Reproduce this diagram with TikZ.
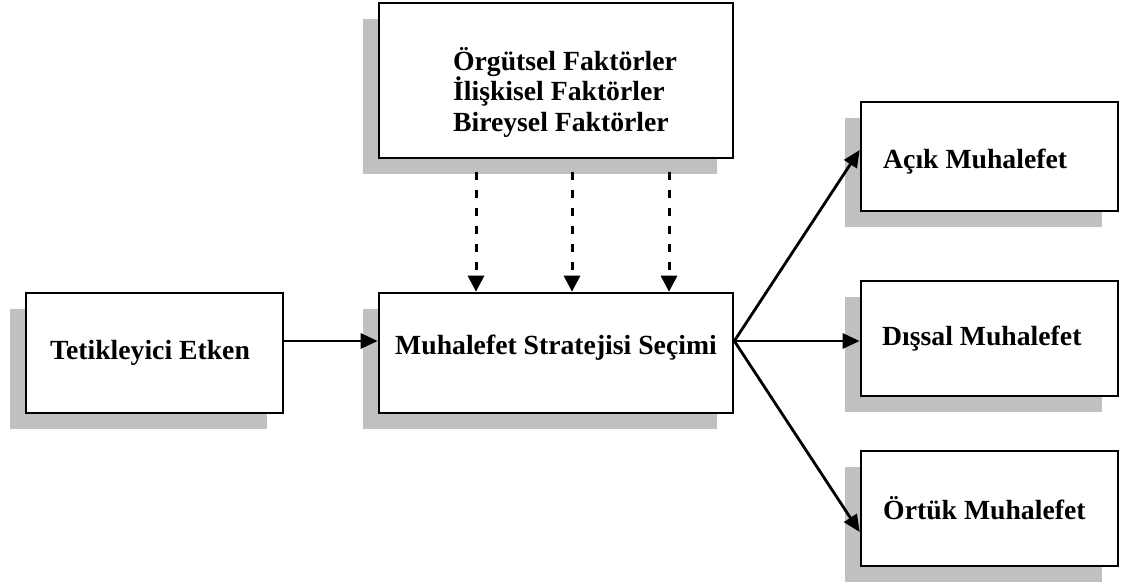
\documentclass[tikz,border=0pt]{standalone}
\usepackage{fontspec}
\setmainfont{Liberation Serif}
\usetikzlibrary{arrows.meta,shadows}
\definecolor{shadowgray}{HTML}{C0C0C0}
\begin{document}
\begin{tikzpicture}[x=1pt,y=-1pt,
  box/.style={draw=black,line width=2.6pt,fill=white,inner sep=0pt,
    drop shadow={shadow xshift=-16pt,shadow yshift=-16pt,fill=shadowgray,opacity=1}},
  label/.style={font=\bfseries\fontsize{27.7}{30.5}\selectfont,inner sep=0pt},
  flow/.style={line width=2.8pt,-{Triangle[length=17pt,width=15pt]}},
  dasharrow/.style={line width=3pt,dash pattern=on 8pt off 10pt,-{Triangle[length=16pt,width=16pt]}}]
\useasboundingbox (0,0) rectangle (1123,585);

% boxes
\node[box,minimum width=354pt,minimum height=155pt] (factors) at (556,80.5) {};
\node[box,minimum width=354pt,minimum height=120pt] (choice) at (556,353) {};
\node[box,minimum width=257pt,minimum height=120pt] (trigger) at (154.5,353) {};
\node[box,minimum width=257pt,minimum height=109pt] (open) at (989.5,156.5) {};
\node[box,minimum width=257pt,minimum height=115pt] (external) at (989.5,338.5) {};
\node[box,minimum width=257pt,minimum height=115pt] (covert) at (989.5,508.5) {};

% box texts
\node[label,align=left] (factorstext) at (565,92) {Örgütsel Faktörler\\İlişkisel Faktörler\\Bireysel Faktörler};
\node[label] (choicetext) at (556,348) {Muhalefet Stratejisi Seçimi};
\node[label] (triggertext) at (150,353) {Tetikleyici Etken};
\node[label,anchor=west] (opentext) at (883,162) {Açık Muhalefet};
\node[label,anchor=west] (externaltext) at (882,339) {Dışsal Muhalefet};
\node[label,anchor=west] (coverttext) at (883,508) {Örtük Muhalefet};

% solid connectors
\draw[flow] ([yshift=12pt]trigger.east) -- ([yshift=12pt]choice.west);
\draw[flow] ([yshift=12pt]choice.east) -- ([yshift=6.5pt]open.west);
\draw[flow] ([yshift=12pt]choice.east) -- ([yshift=-2.5pt]external.west);
\draw[flow] ([yshift=12pt]choice.east) -- ([yshift=-23.5pt]covert.west);

% dashed influence arrows
\coordinate (d1) at (476,172);
\coordinate (d2) at (572,172);
\coordinate (d3) at (669,172);
\foreach \d in {d1,d2,d3}
  \draw[dasharrow] (\d) -- (\d |- choice.north);
\end{tikzpicture}
\end{document}
